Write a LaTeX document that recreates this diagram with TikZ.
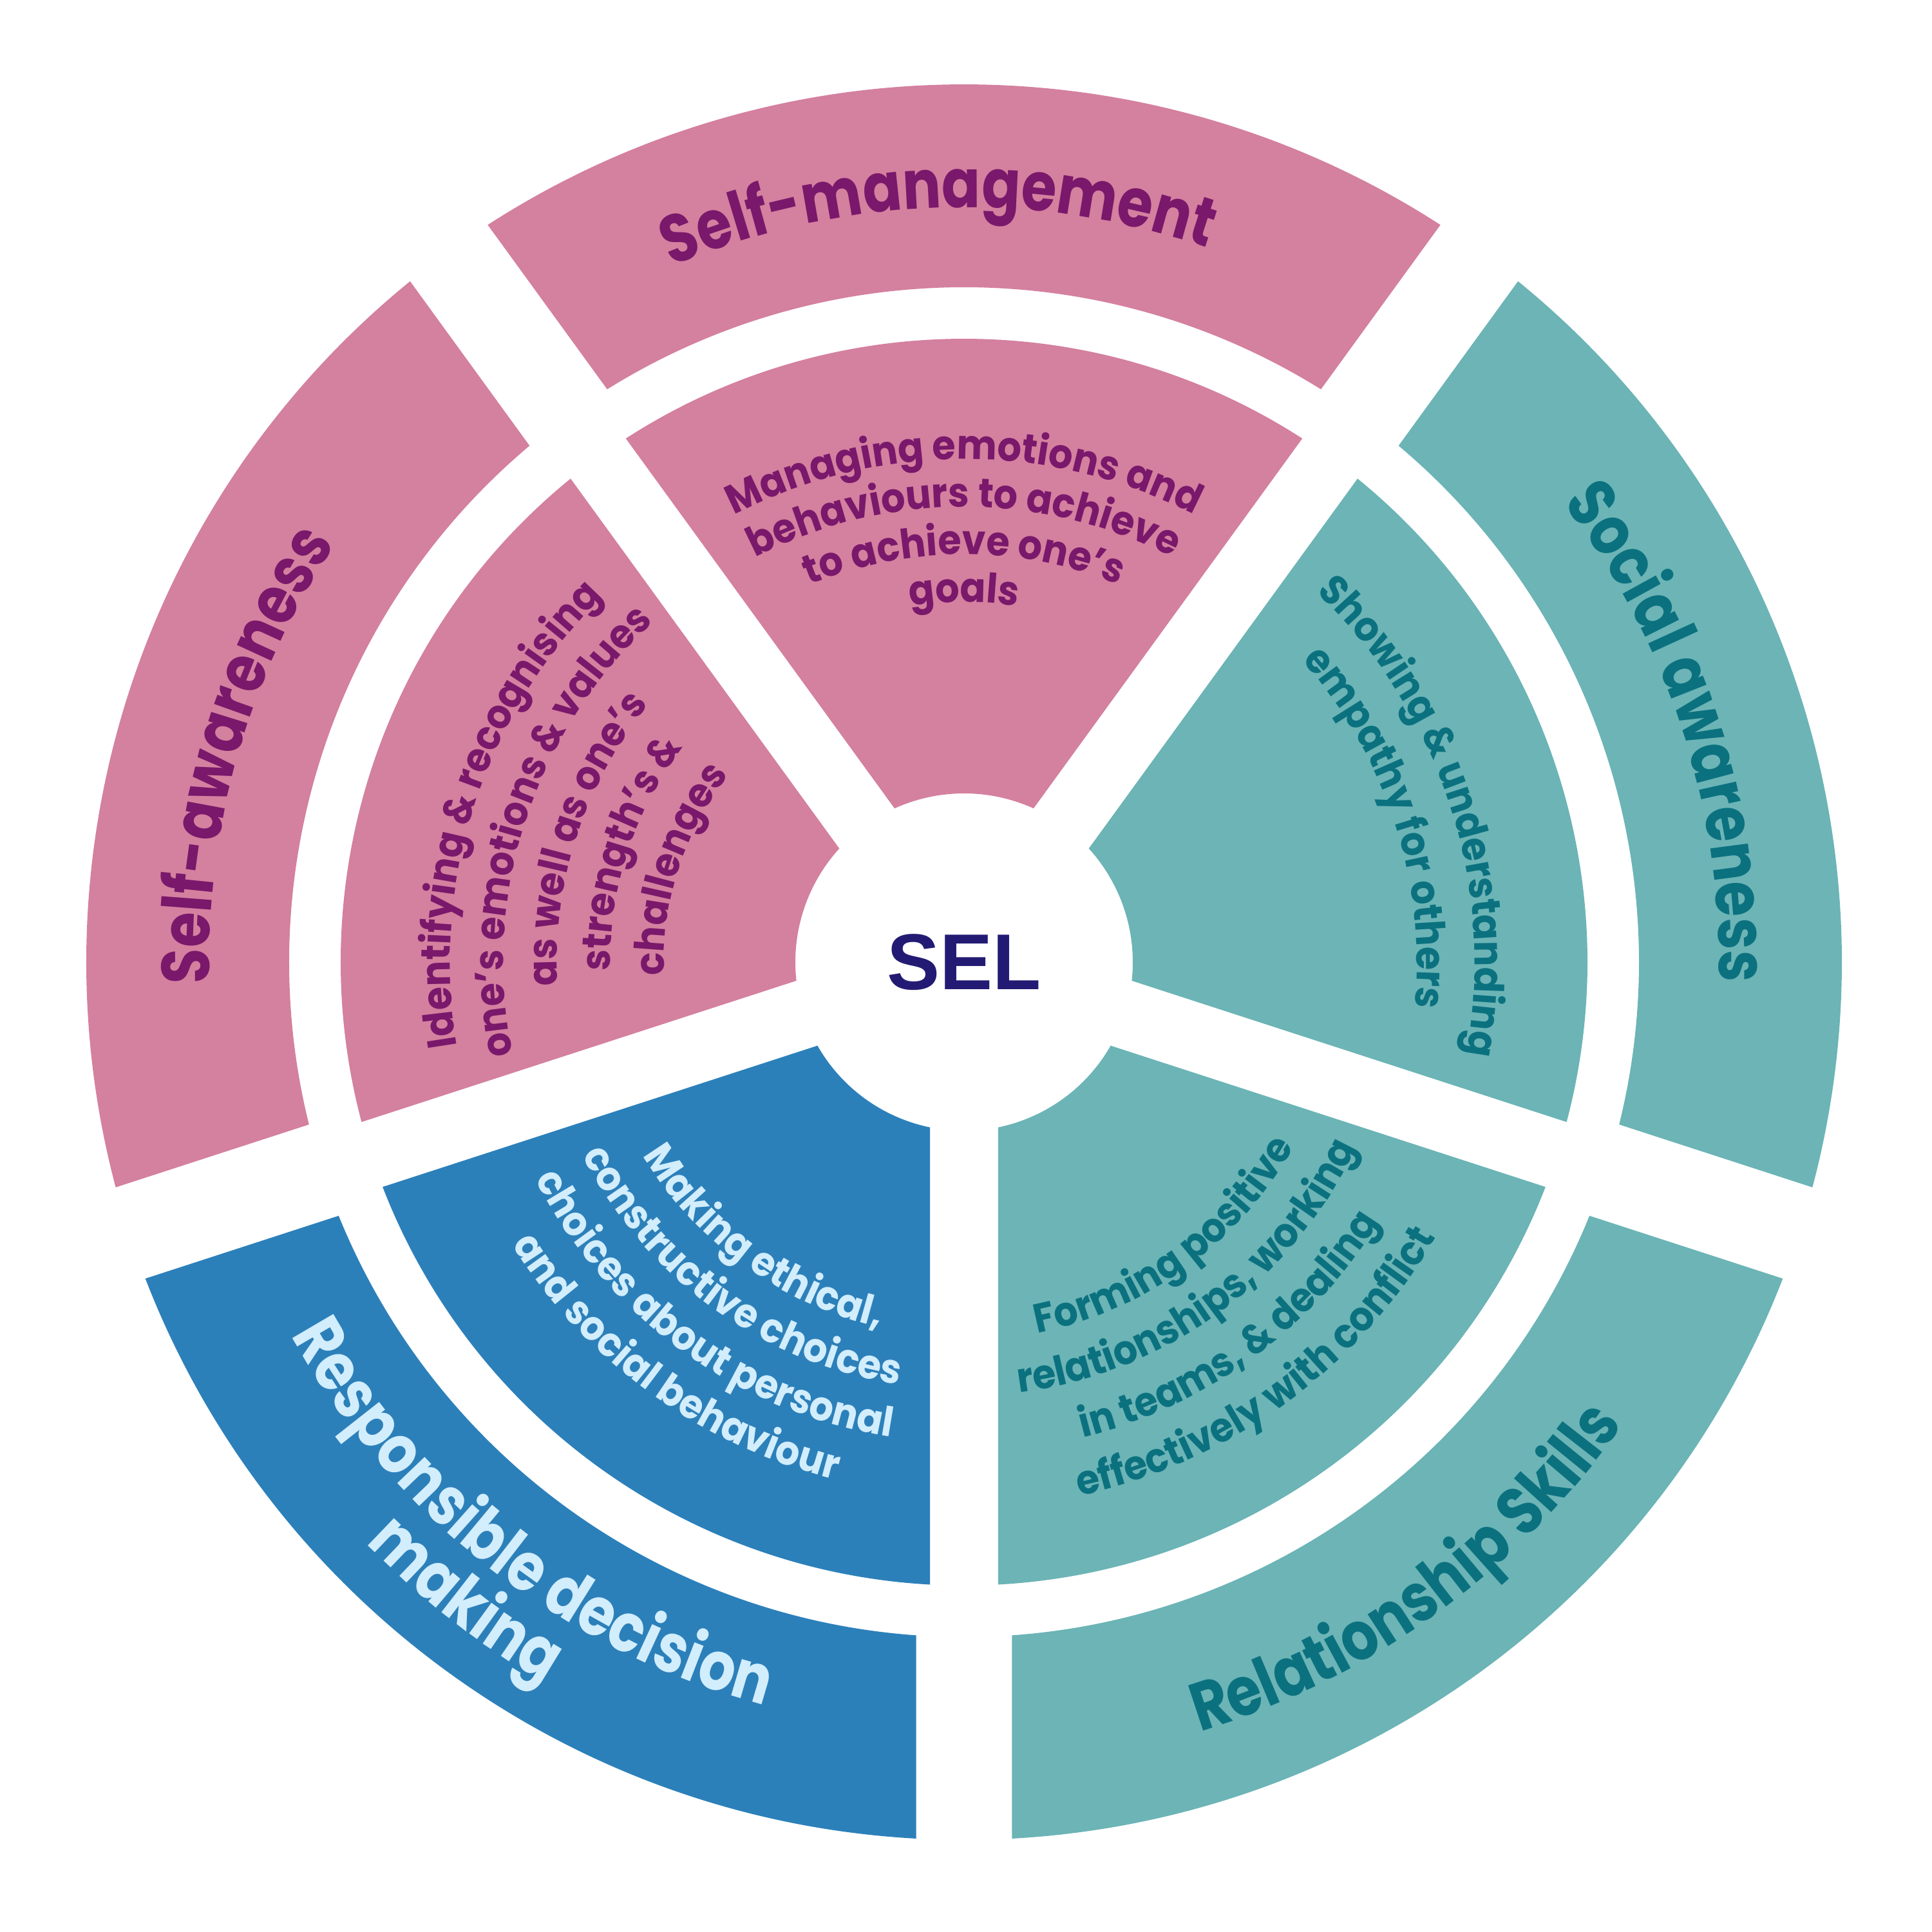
\documentclass[tikz,border=0pt]{standalone}
\usepackage{fontspec}
\setmainfont{Poppins}
\newfontfamily\selfont{Liberation Sans}
\newfontfamily\titlefam{Poppins}[FakeStretch=0.84]
\newfontfamily\bodyfam{Poppins}[FakeStretch=0.93]
\usetikzlibrary{decorations.text}
\definecolor{pinkfill}{HTML}{D4809F}
\definecolor{pinkink}{HTML}{7A186B}
\definecolor{tealfill}{HTML}{6CB4B6}
\definecolor{tealink}{HTML}{0B717F}
\definecolor{bluefill}{HTML}{2C80BA}
\definecolor{blueink}{HTML}{D2EDFC}
\definecolor{selink}{HTML}{231B73}
\newcommand{\titlefont}{\titlefam\fontsize{30}{30}\selectfont\bfseries}
\newcommand{\bodyfont}{\bodyfam\fontsize{18}{20}\selectfont\bfseries}
\newcommand{\ringpart}[5]{%
  \fill[#1] ({#2+asin(#5/#4)}:#4)
    arc[start angle={#2+asin(#5/#4)},end angle={#2+72-asin(#5/#4)},radius=#4]
    -- ({#2+72-asin(#5/#3)}:#3)
    arc[start angle={#2+72-asin(#5/#3)},end angle={#2+asin(#5/#3)},radius=#3]
    -- cycle;}
\newcommand{\outarc}[4]{%
  \path[decorate,decoration={text along path,text align=center,text={|#3|#4}}]
    ({#2+50}:#1) arc[start angle={#2+50},end angle={#2-50},radius=#1];}
\newcommand{\inarc}[4]{%
  \path[decorate,decoration={text along path,text align=center,text={|#3|#4}}]
    ({#2-50}:#1) arc[start angle={#2-50},end angle={#2+50},radius=#1];}
\tikzset{
  hub/.style={font={\selfont\fontsize{35}{35}\selectfont\bfseries},text=selink}
}

\begin{document}
\begin{tikzpicture}
  \useasboundingbox (-14.97,-15.06) rectangle (15.03,14.94);
  \foreach \g/\col in {-18/tealfill,54/pinkfill,126/pinkfill,198/bluefill,270/tealfill}{
    \ringpart{\col}{\g}{2.62}{9.68}{0.53}
    \ringpart{\col}{\g}{10.48}{13.63}{0.745}
  }
  \node[hub] (sel) at (0,0) {SEL};
  \outarc{11.72}{92}{\titlefont\color{pinkink}}{Self-management}
  \outarc{11.72}{164}{\titlefont\color{pinkink}}{Self-awareness}
  \outarc{11.72}{18}{\titlefont\color{tealink}}{Social awareness}
  \inarc{12.5}{-54}{\titlefont\color{tealink}}{Relationship Skills}
  \inarc{11.95}{-128}{\titlefont\color{blueink}}{Responsible decision}
  \inarc{12.95}{-128}{\titlefont\color{blueink}}{making}
  \outarc{7.81}{90}{\bodyfont\color{pinkink}}{Managing emotions and}
  \outarc{7.07}{90}{\bodyfont\color{pinkink}}{behaviours to achieve}
  \outarc{6.33}{90}{\bodyfont\color{pinkink}}{to achieve one’s}
  \outarc{5.59}{90}{\bodyfont\color{pinkink}}{goals}
  \outarc{7.98}{162}{\bodyfont\color{pinkink}}{Identifying {\&} recognising}
  \outarc{7.15}{162}{\bodyfont\color{pinkink}}{one’s emotions {\&} values}
  \outarc{6.32}{162}{\bodyfont\color{pinkink}}{as well as one’s}
  \outarc{5.49}{162}{\bodyfont\color{pinkink}}{strength’s {\&}}
  \outarc{4.66}{162}{\bodyfont\color{pinkink}}{challenges}
  \outarc{7.93}{18}{\bodyfont\color{tealink}}{Showing {\&} understanding}
  \outarc{7.03}{18}{\bodyfont\color{tealink}}{empathy for others}
  \inarc{5.87}{-54}{\bodyfont\color{tealink}}{Forming positive}
  \inarc{6.74}{-54}{\bodyfont\color{tealink}}{relationships, working}
  \inarc{7.61}{-54}{\bodyfont\color{tealink}}{in teams, {\&} dealing}
  \inarc{8.48}{-54}{\bodyfont\color{tealink}}{effectively with conflict}
  \inarc{5.82}{-126}{\bodyfont\color{blueink}}{Making ethical,}
  \inarc{6.64}{-126}{\bodyfont\color{blueink}}{constructive choices}
  \inarc{7.46}{-126}{\bodyfont\color{blueink}}{choices about personal}
  \inarc{8.28}{-126}{\bodyfont\color{blueink}}{and social behaviour}
\end{tikzpicture}
\end{document}
